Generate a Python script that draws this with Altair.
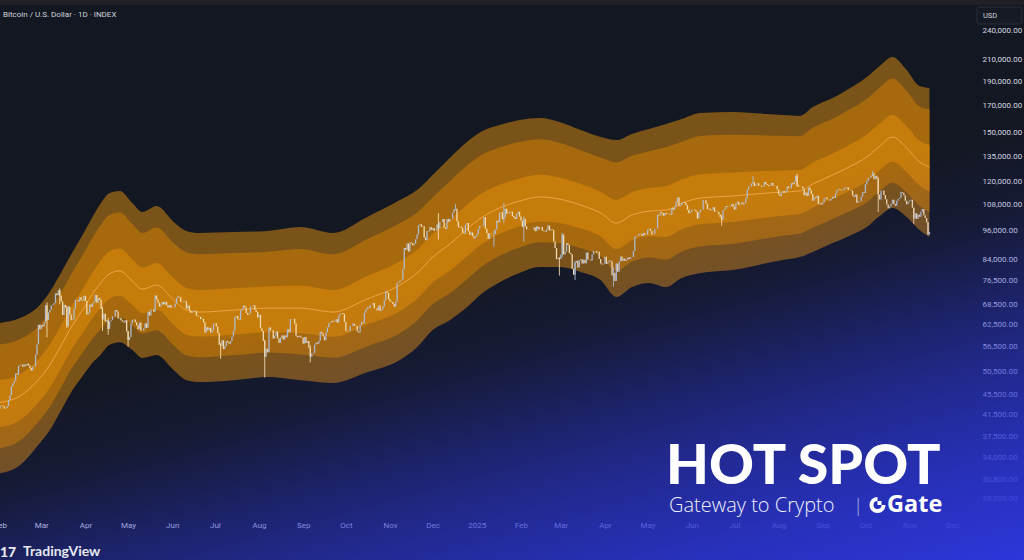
import altair as alt
import pandas as pd
import math

# ---------------- data ----------------
# Daily closes, thousands of USD, one list per month
month_starts = ["2024-02", "2024-03", "2024-04", "2024-05", "2024-06", "2024-07",
                "2024-08", "2024-09", "2024-10", "2024-11", "2024-12", "2025-01",
                "2025-02", "2025-03", "2025-04", "2025-05", "2025-06", "2025-07",
                "2025-08", "2025-09", "2025-10", "2025-11"]
closes_by_month = [
    [43.1, 43.2, 43.0, 42.6, 42.7, 43.1, 44.3, 45.3, 47.1, 47.8,
     48.3, 50.0, 49.7, 51.8, 52.0, 52.1, 51.6, 52.1, 51.8, 52.3,
     51.9, 51.3, 50.7, 51.6, 51.7, 54.5, 57.1, 62.5, 61.2],
    [62.4, 62.0, 63.1, 68.3, 63.8, 66.1, 66.9, 68.3, 68.5, 69.0,
     72.1, 71.5, 73.1, 71.4, 69.5, 65.3, 68.4, 67.6, 62.0, 67.9,
     65.5, 63.8, 64.1, 67.2, 70.0, 69.9, 69.5, 70.8, 69.9, 69.7, 71.3],
    [69.6, 65.5, 66.0, 68.5, 67.8, 68.9, 69.4, 71.6, 69.1, 70.6,
     70.0, 67.1, 64.0, 65.7, 63.4, 63.8, 61.3, 63.5, 63.8, 64.9,
     64.9, 66.8, 66.4, 64.3, 64.5, 63.8, 63.4, 63.1, 63.8, 60.6],
    [58.3, 59.1, 62.9, 63.9, 64.0, 63.2, 62.3, 61.2, 63.1, 60.8,
     60.8, 61.5, 62.9, 61.6, 66.3, 65.2, 67.0, 67.0, 66.3, 71.4,
     70.1, 69.1, 67.9, 68.5, 69.3, 68.5, 69.4, 68.3, 67.6, 68.4, 67.5],
    [67.7, 67.7, 68.8, 70.6, 71.1, 70.8, 69.3, 69.3, 69.6, 69.5,
     67.3, 68.2, 66.7, 66.0, 66.2, 66.6, 66.5, 65.1, 64.9, 64.8,
     64.1, 64.2, 63.2, 60.3, 61.8, 60.9, 61.6, 60.3, 60.9, 62.7],
    [62.9, 62.0, 60.2, 57.0, 56.7, 58.2, 55.9, 56.7, 58.0, 57.7,
     57.3, 58.0, 59.2, 60.8, 64.7, 65.0, 64.1, 63.9, 66.7, 67.2,
     68.2, 67.6, 65.9, 65.4, 65.8, 67.9, 68.0, 68.3, 66.8, 66.2, 64.6],
    [65.4, 61.5, 60.7, 58.1, 54.0, 56.0, 55.1, 61.7, 60.9, 60.9,
     58.7, 59.4, 60.6, 58.7, 57.5, 58.9, 59.5, 58.4, 59.5, 59.0,
     61.2, 60.4, 64.1, 64.2, 64.2, 62.8, 59.4, 59.0, 59.4, 59.1, 58.9],
    [57.3, 59.1, 57.5, 58.0, 56.2, 54.0, 54.8, 54.9, 57.0, 57.6,
     57.3, 58.1, 60.5, 60.0, 59.2, 58.2, 60.3, 61.7, 62.9, 63.2,
     63.6, 63.3, 63.3, 64.1, 63.1, 65.2, 65.8, 65.9, 65.6, 63.3],
    [60.8, 60.6, 60.7, 62.1, 62.1, 62.8, 62.2, 62.1, 60.6, 60.3,
     62.4, 63.2, 62.9, 66.0, 67.0, 67.6, 67.4, 68.4, 68.4, 69.0,
     67.4, 67.4, 66.7, 68.2, 66.6, 67.0, 67.9, 69.9, 72.7, 72.3, 70.2],
    [69.5, 69.3, 68.7, 67.8, 69.4, 75.6, 75.9, 76.5, 76.7, 80.5,
     88.7, 88.0, 90.5, 87.3, 91.0, 90.6, 89.8, 90.5, 92.3, 94.3,
     98.4, 98.9, 97.7, 98.0, 93.1, 91.9, 95.9, 95.7, 97.5, 96.4],
    [97.2, 95.9, 96.0, 98.8, 97.0, 99.9, 99.9, 101.2, 97.4, 96.7,
     101.2, 100.0, 101.4, 101.4, 104.3, 106.0, 106.1, 100.2, 97.5, 97.8,
     97.3, 95.1, 94.7, 98.7, 99.4, 95.8, 94.2, 95.2, 93.6, 92.7, 93.4],
    [94.4, 96.9, 98.1, 98.2, 98.3, 102.1, 96.9, 95.0, 92.5, 94.7,
     94.6, 94.5, 94.5, 96.5, 100.5, 99.8, 104.1, 104.4, 101.1, 102.0,
     106.1, 103.7, 103.9, 104.8, 104.7, 102.6, 102.1, 101.3, 103.7, 104.7, 102.4],
    [100.6, 97.7, 101.4, 97.9, 96.6, 96.6, 96.5, 96.5, 96.5, 97.4,
     95.8, 97.9, 96.6, 97.5, 97.6, 96.1, 95.8, 95.5, 96.6, 98.3,
     96.1, 96.6, 96.3, 91.4, 88.7, 84.3, 84.7, 84.4],
    [86.0, 94.3, 86.1, 87.2, 90.6, 89.9, 86.7, 86.2, 80.7, 78.5,
     82.9, 83.7, 81.1, 83.9, 84.3, 82.6, 84.1, 82.7, 86.9, 84.2,
     84.1, 83.8, 86.1, 87.5, 87.5, 86.9, 87.2, 84.4, 82.6, 82.3, 82.5],
    [85.2, 82.5, 83.1, 83.8, 83.5, 78.2, 79.2, 76.3, 82.6, 79.6,
     83.4, 85.3, 83.7, 84.5, 83.6, 84.0, 84.9, 84.4, 85.1, 85.1,
     87.5, 93.4, 93.7, 93.9, 94.7, 94.6, 93.7, 95.0, 94.3, 94.2],
    [96.5, 96.9, 95.9, 94.3, 94.7, 96.8, 97.0, 103.2, 102.9, 104.6,
     104.1, 102.8, 104.1, 103.5, 103.7, 103.5, 103.2, 106.5, 105.6, 106.8,
     109.7, 111.7, 107.3, 107.8, 109.0, 109.4, 108.9, 107.8, 105.6, 103.9, 104.6],
    [105.7, 105.8, 105.4, 104.7, 101.5, 104.3, 105.6, 105.7, 110.3, 110.3,
     108.7, 105.9, 106.1, 105.4, 105.6, 106.8, 104.6, 104.8, 104.6, 103.3,
     102.1, 100.9, 105.4, 106.0, 107.3, 106.9, 107.1, 107.4, 108.4, 107.1],
    [105.7, 108.8, 109.6, 108.0, 108.2, 109.2, 108.3, 108.9, 111.3, 115.9,
     117.5, 117.4, 119.1, 119.8, 117.7, 118.6, 119.2, 117.9, 117.9, 117.3,
     117.4, 119.9, 118.8, 118.3, 117.6, 117.9, 119.4, 118.1, 117.9, 117.8, 115.8],
    [113.3, 112.5, 114.2, 115.0, 114.1, 115.0, 117.5, 116.7, 116.5, 119.3,
     118.7, 120.2, 123.3, 118.3, 117.4, 117.5, 117.4, 116.3, 112.9, 114.3,
     112.5, 116.9, 115.4, 113.5, 110.1, 111.8, 111.3, 112.6, 108.4, 108.8, 108.2],
    [109.2, 111.2, 111.7, 110.7, 110.7, 110.2, 111.1, 112.1, 111.5, 113.9,
     115.5, 116.1, 115.9, 115.3, 115.4, 116.8, 116.5, 117.1, 115.7, 115.7,
     115.3, 112.7, 112.0, 113.3, 109.0, 109.7, 109.7, 112.1, 114.4, 114.0],
    [118.6, 120.6, 122.3, 122.4, 123.5, 124.8, 121.4, 123.3, 121.7, 113.2,
     110.7, 115.2, 115.3, 113.0, 110.8, 108.2, 106.4, 107.2, 108.6, 110.6,
     108.4, 107.6, 110.0, 111.0, 111.6, 114.5, 114.1, 112.9, 110.0, 108.3, 109.6],
    [110.1, 110.6, 106.6, 101.5, 103.9, 101.3, 103.3, 102.3, 104.7, 106.0,
     103.0, 101.7, 99.7, 94.4, 95.5],
]
first_open_k = 42.6

# Visible long wicks (thousands of USD)
wick_dates = ["2024-03-05", "2024-03-14", "2024-03-19", "2024-04-13", "2024-04-17",
              "2024-05-01", "2024-07-05", "2024-08-05", "2024-09-06", "2024-12-05",
              "2024-12-17", "2025-01-13", "2025-01-20", "2025-02-03", "2025-02-28",
              "2025-03-02", "2025-03-11", "2025-04-07", "2025-05-22", "2025-06-22",
              "2025-07-14", "2025-08-14", "2025-10-06", "2025-10-10", "2025-11-04",
              "2025-11-14"]
wick_lows_k = [59.0, 68.6, 61.6, 60.7, 59.7, 56.5, 53.5, 49.1, 52.6, 92.2,
               105.3, 89.3, 99.5, 91.2, 78.2, 85.1, 76.6, 74.4, 109.1, 98.2,
               119.1, 117.2, 123.2, 104.6, 98.9, 94.0]
wick_highs_k = [69.2, 73.8, 68.1, 67.9, 64.5, 60.8, 57.5, 58.3, 56.9, 104.0,
                108.3, 95.9, 109.1, 102.5, 85.1, 95.0, 83.6, 81.2, 111.9, 103.1,
                123.2, 124.5, 126.2, 122.5, 106.6, 99.8]

# Envelope indicator: outer top edge, centre line, outer bottom edge (thousands)
band_dates = ["2024-02-01", "2024-02-15", "2024-02-29", "2024-03-07", "2024-03-14",
              "2024-03-23", "2024-03-30", "2024-04-06", "2024-04-11", "2024-04-18",
              "2024-04-25", "2024-05-04", "2024-05-11", "2024-05-21", "2024-06-02",
              "2024-06-11", "2024-06-20", "2024-07-14", "2024-08-07", "2024-08-30",
              "2024-09-22", "2024-10-16", "2024-11-08", "2024-11-20", "2024-12-01",
              "2024-12-13", "2024-12-25", "2025-01-05", "2025-01-17", "2025-01-31",
              "2025-02-14", "2025-02-28", "2025-03-15", "2025-03-29", "2025-04-09",
              "2025-04-20", "2025-05-02", "2025-05-14", "2025-05-25", "2025-06-07",
              "2025-06-30", "2025-07-24", "2025-08-04", "2025-08-16", "2025-08-25",
              "2025-09-08", "2025-09-18", "2025-10-02", "2025-10-11", "2025-10-20",
              "2025-10-30", "2025-11-08", "2025-11-15"]
band_top_k = [63.0, 64.4, 68.4, 72.6, 78.4, 87.1, 94.1, 102.2, 107.9, 114.0,
              115.1, 108.9, 104.5, 107.4, 99.9, 95.9, 95.0, 95.4, 95.9, 97.6,
              95.0, 102.2, 110.4, 115.6, 123.8, 133.8, 143.9, 151.3, 155.5, 159.1,
              160.6, 157.7, 152.0, 147.2, 145.2, 149.3, 152.7, 156.2, 159.8, 164.3,
              165.0, 163.5, 162.8, 162.1, 168.8, 175.9, 182.5, 193.6, 203.6, 212.2,
              199.9, 185.8, 184.2]
band_mid_k = [43.8, 45.1, 49.0, 52.0, 56.2, 62.4, 66.8, 71.9, 75.2, 78.8,
              79.9, 76.3, 73.5, 74.9, 69.9, 66.8, 66.2, 66.8, 67.4, 67.4,
              66.2, 70.3, 74.9, 79.1, 85.1, 90.3, 96.7, 102.2, 106.5, 109.9,
              112.0, 110.9, 107.9, 104.1, 99.4, 103.1, 105.0, 105.5, 108.9, 111.4,
              112.5, 114.0, 114.5, 115.1, 118.8, 123.8, 127.8, 134.4, 141.3, 147.2,
              140.0, 131.4, 128.4]
band_bot_k = [31.7, 32.9, 36.4, 38.6, 41.8, 46.4, 49.4, 52.5, 54.2, 57.0,
              57.7, 55.7, 53.7, 54.4, 50.8, 48.5, 48.1, 48.5, 49.2, 48.5,
              47.9, 50.3, 53.2, 56.4, 61.0, 63.8, 67.7, 72.2, 75.9, 79.1,
              81.3, 81.3, 79.5, 76.6, 70.9, 74.2, 75.6, 74.2, 77.3, 79.1,
              80.2, 82.8, 84.0, 85.1, 87.1, 90.7, 93.3, 97.6, 102.6, 106.5,
              102.2, 96.3, 93.3]
# inner band edges as fractions of the log-distance centre -> outer edge
upper_fracs = [0.28, 0.73]
lower_fracs = [0.35, 0.645]

y_ticks = [240000, 210000, 190000, 170000, 150000, 135000, 120000, 108000, 96000,
           84000, 76500, 68500, 62500, 56500, 50500, 45500, 41500, 37500, 34000,
           30800, 28200]

# ---------------- tables ----------------
rows = []
prev = first_open_k
for ms, vals in zip(month_starts, closes_by_month):
    for d, c in zip(pd.date_range(ms + "-01", periods=len(vals), freq="D"), vals):
        rows.append({"date": d.strftime("%Y-%m-%d"), "open": prev * 1000,
                     "close": c * 1000, "dir": "up" if c >= prev else "down"})
        prev = c
candles = pd.DataFrame(rows)

wicks = pd.DataFrame({"date": wick_dates,
                      "low": [v * 1000 for v in wick_lows_k],
                      "high": [v * 1000 for v in wick_highs_k]})
wicks = wicks.merge(candles[["date", "dir"]], on="date", how="left")

bands = pd.DataFrame({"date": band_dates,
                      "mid": [v * 1000 for v in band_mid_k],
                      "u3": [v * 1000 for v in band_top_k],
                      "l3": [v * 1000 for v in band_bot_k]})
bands["u1"] = bands["mid"] * (bands["u3"] / bands["mid"]) ** upper_fracs[0]
bands["u2"] = bands["mid"] * (bands["u3"] / bands["mid"]) ** upper_fracs[1]
bands["l1"] = bands["mid"] * (bands["l3"] / bands["mid"]) ** lower_fracs[0]
bands["l2"] = bands["mid"] * (bands["l3"] / bands["mid"]) ** lower_fracs[1]


def ms_of(s):
    return int(pd.Timestamp(s).value // 10**6)


month_ms = [int(d.value // 10**6) for d in pd.date_range("2024-02-01", "2025-12-01", freq="MS")]

# ---------------- scales / axes ----------------
W, H = 975, 512
xs = alt.Scale(type="utc", domain=[ms_of("2024-02-01"), ms_of("2025-12-17")])
ys = alt.Scale(type="log", domain=[26570, 275240], nice=False)
x_axis = alt.Axis(values=month_ms, title=None, domain=False, ticks=False, grid=False,
                  labelExpr="utcmonth(datum.value) == 0 ? utcFormat(datum.value, '%Y') : utcFormat(datum.value, '%b')",
                  labelColor="#d8dbe3", labelFont="Roboto", labelFontSize=8,
                  labelPadding=9, labelFlush=False, labelOverlap=False)
y_axis = alt.Axis(orient="right", values=y_ticks, format=",.2f", title=None,
                  domain=False, ticks=False, grid=False, labelAlign="left",
                  labelColor="#d8dbe3", labelFont="Roboto", labelFontSize=8,
                  labelPadding=7, labelOverlap=False, labelBound=False, labelFlush=False)
X = alt.X("date:T", scale=xs, axis=x_axis)


def Y(f):
    return alt.Y(f + ":Q", scale=ys, axis=y_axis)


def band_layer(lo, hi, col):
    return alt.Chart(bands).mark_area(color=col, interpolate="monotone", clip=True).encode(
        x=X, y=Y(lo), y2=alt.Y2(hi + ":Q"))


outer = band_layer("l3", "u3", "#7a5318")
middle = band_layer("l2", "u2", "#a7690e")
inner = band_layer("l1", "u1", "#c67c0b")
centre = alt.Chart(bands).mark_line(color="#f6b25a", strokeWidth=1, opacity=0.75,
                                    interpolate="monotone", clip=True).encode(x=X, y=Y("mid"))

cand_color = alt.Color("dir:N", scale=alt.Scale(domain=["up", "down"], range=["#aebbd0", "#f5dcaf"]),
                       legend=None)
bodies = alt.Chart(candles).mark_rule(strokeWidth=1.3, clip=True).encode(
    x=X, y=Y("open"), y2=alt.Y2("close:Q"), color=cand_color)
wick_layer = alt.Chart(wicks).mark_rule(strokeWidth=0.9, clip=True).encode(
    x=X, y=Y("low"), y2=alt.Y2("high:Q"), color=cand_color)

one = pd.DataFrame({"a": [0]})
overlay = alt.Chart(one).mark_rect(
    fill=alt.LinearGradient(
        gradient="linear", x1=0, y1=0, x2=0.6, y2=1.2,
        stops=[alt.GradientStop(color="rgba(43,53,214,0)", offset=0),
               alt.GradientStop(color="rgba(43,53,214,0)", offset=0.48),
               alt.GradientStop(color="rgba(43,53,214,0.10)", offset=0.58),
               alt.GradientStop(color="rgba(43,53,214,0.26)", offset=0.64),
               alt.GradientStop(color="rgba(43,53,214,0.43)", offset=0.70),
               alt.GradientStop(color="rgba(43,53,214,0.63)", offset=0.78),
               alt.GradientStop(color="rgba(43,53,214,0.82)", offset=0.87),
               alt.GradientStop(color="rgba(45,55,222,0.98)", offset=1.0)]),
    strokeWidth=0).encode(x=alt.value(0), x2=alt.value(1024), y=alt.value(0), y2=alt.value(560))

top_strip = alt.Chart(one).mark_rect(fill="#1f2024").encode(
    x=alt.value(0), x2=alt.value(1024), y=alt.value(0), y2=alt.value(5))
usd_box = alt.Chart(one).mark_rect(fill="#161a25", stroke="#2a2e39", strokeWidth=1, cornerRadius=2).encode(
    x=alt.value(977), x2=alt.value(1022), y=alt.value(7), y2=alt.value(24))

# Gate logo icon: open ring + small square
gate_ring = alt.Chart(one).mark_arc(color="#ffffff", radius=8, radius2=4,
                                    theta=math.pi / 2, theta2=2 * math.pi).encode(
    x=alt.value(877.5), y=alt.value(505))
gate_sq = alt.Chart(one).mark_rect(fill="#ffffff").encode(
    x=alt.value(877.5), x2=alt.value(881.5), y=alt.value(501), y2=alt.value(505))


def txt(s, x, y, size, color="#ffffff", weight="normal", font="Lato", baseline="alphabetic", align="left"):
    return alt.Chart(pd.DataFrame({"t": [s]})).mark_text(
        font=font, fontSize=size, fontWeight=weight, color=color, align=align, baseline=baseline).encode(
        x=alt.value(x), y=alt.value(y), text="t:N")


texts = [
    txt("Bitcoin / U.S. Dollar · 1D · INDEX", 3, 15, 8, "#d1d4dc", "normal", "Roboto", "middle"),
    txt("USD", 983, 16, 7.5, "#d1d4dc", "normal", "Roboto", "middle"),
    txt("HOT SPOT", 666, 484, 55.5, "#ffffff", 900),
    txt("Gateway to Crypto", 669, 512, 20, "#eef0fb", 300, "Open Sans"),
    txt("|", 853, 512, 19, "#aab0e0", 300, "Open Sans"),
    txt("Gate", 887, 512, 23.5, "#ffffff", "bold", "Open Sans"),
    txt("17", 0, 557, 14, "#e6e8ef", 900),
    txt("TradingView", 23, 556, 14, "#e6e8ef", "bold"),
]

chart = alt.layer(outer, middle, inner, centre, bodies, wick_layer, overlay,
                  top_strip, usd_box, gate_ring, gate_sq, *texts).properties(
    width=W, height=H,
    padding={"left": 0, "top": 0, "right": 1024 - W, "bottom": 560 - H},
    autosize=alt.AutoSizeParams(type="none"),
    background="#131722",
).configure_view(stroke=None)

chart.save("out.html", embed_options={"renderer": "svg", "actions": False})
